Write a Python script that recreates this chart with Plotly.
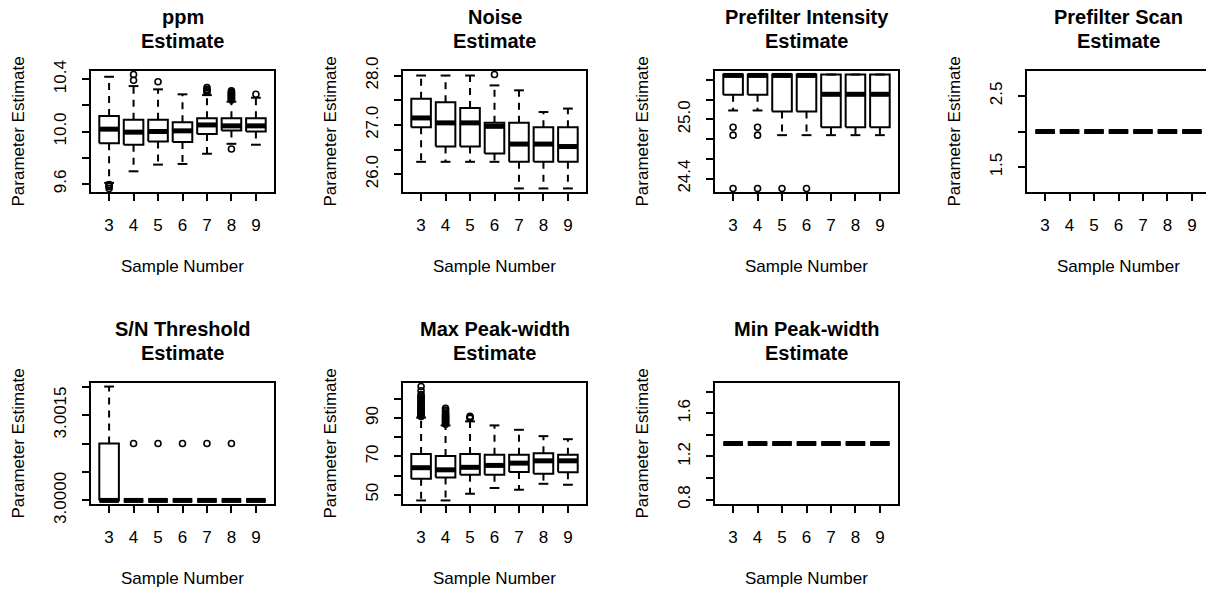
import plotly.graph_objects as go

W, H = 1206, 590
FONT = "Liberation Sans, Arial, Helvetica, sans-serif"

SAMPLES = ["3", "4", "5", "6", "7", "8", "9"]

# ---- ppm estimates -------------------------------------------------------
ppm_low = [9.608, 9.696, 9.747, 9.752, 9.830, 9.906, 9.899]
ppm_q1 = [9.911, 9.899, 9.924, 9.919, 9.980, 10.008, 10.000]
ppm_med = [10.018, 9.995, 10.000, 10.005, 10.050, 10.043, 10.043]
ppm_q3 = [10.119, 10.089, 10.089, 10.071, 10.101, 10.101, 10.101]
ppm_high = [10.418, 10.347, 10.322, 10.284, 10.278, 10.228, 10.258]
ppm_out = [
    [9.565, 9.580, 9.590, 9.595],
    [10.392, 10.435],
    [10.380],
    [],
    [10.300, 10.310, 10.320, 10.335],
    [9.866, 10.240, 10.250, 10.255, 10.260, 10.270, 10.275, 10.280,
     10.290, 10.295, 10.300, 10.310],
    [10.284],
]
ppm_ticks = [9.6, 9.8, 10.0, 10.2, 10.4]
ppm_labels = ["9.6", "", "10.0", "", "10.4"]

# ---- Noise estimates -----------------------------------------------------
noise_low = [26.25, 26.25, 26.25, 26.25, 25.71, 25.71, 25.71]
noise_q1 = [26.95, 26.56, 26.56, 26.42, 26.25, 26.25, 26.25]
noise_med = [27.14, 27.04, 27.04, 26.97, 26.61, 26.61, 26.56]
noise_q3 = [27.53, 27.46, 27.34, 27.04, 27.04, 26.95, 26.95]
noise_high = [28.00, 28.00, 28.00, 27.80, 27.70, 27.26, 27.33]
noise_out = [[], [], [], [28.02], [], [], []]
noise_ticks = [26.0, 26.5, 27.0, 27.5, 28.0]
noise_labels = ["26.0", "", "27.0", "", "28.0"]

# ---- Prefilter intensity estimates ---------------------------------------
pint_low = [25.09, 25.09, 24.84, 24.84, 24.84, 24.84, 24.84]
pint_q1 = [25.25, 25.25, 25.08, 25.08, 24.92, 24.92, 24.92]
pint_med = [25.445, 25.445, 25.445, 25.445, 25.254, 25.254, 25.254]
pint_q3 = [25.454, 25.454, 25.454, 25.454, 25.454, 25.454, 25.454]
pint_high = [25.454, 25.454, 25.454, 25.454, 25.454, 25.454, 25.454]
pint_out = [
    [24.30, 24.84, 24.92],
    [24.30, 24.84, 24.92],
    [24.30],
    [24.30],
    [], [], [],
]
pint_ticks = [24.4, 24.6, 24.8, 25.0, 25.2, 25.4]
pint_labels = ["24.4", "", "", "25.0", "", ""]

# ---- Prefilter scan estimates --------------------------------------------
pscan_low = [2.0] * 7
pscan_q1 = [2.0] * 7
pscan_med = [2.0] * 7
pscan_q3 = [2.0] * 7
pscan_high = [2.0] * 7
pscan_out = [[]] * 7
pscan_ticks = [1.5, 2.0, 2.5]
pscan_labels = ["1.5", "", "2.5"]

# ---- S/N threshold estimates ---------------------------------------------
snt_low = [3.0] * 7
snt_q1 = [3.0] * 7
snt_med = [3.0] * 7
snt_q3 = [3.001, 3.0, 3.0, 3.0, 3.0, 3.0, 3.0]
snt_high = [3.002, 3.0, 3.0, 3.0, 3.0, 3.0, 3.0]
snt_out = [[], [3.001], [3.001], [3.001], [3.001], [3.001], []]
snt_ticks = [3.0000, 3.0005, 3.0010, 3.0015, 3.0020]
snt_labels = ["3.0000", "", "", "3.0015", ""]

# ---- Max peak-width estimates --------------------------------------------
maxpw_low = [47.0, 47.0, 50.5, 53.5, 52.6, 55.7, 55.2]
maxpw_q1 = [58.3, 59.0, 60.4, 60.4, 61.8, 61.0, 61.7]
maxpw_med = [64.1, 63.0, 64.3, 65.3, 66.5, 67.7, 67.7]
maxpw_q3 = [71.2, 70.2, 71.2, 70.9, 70.9, 71.6, 70.9]
maxpw_high = [90.3, 86.2, 88.3, 86.2, 83.9, 80.6, 79.0]
maxpw_out = [
    [90.8, 91.3, 91.8, 92.3, 92.8, 93.3, 93.8, 94.3, 94.8, 95.3, 95.8,
     96.3, 96.8, 97.3, 97.8, 98.3, 99.0, 99.8, 100.6, 101.5, 102.3,
     104.3, 106.5],
    [86.8, 87.3, 87.8, 88.3, 88.8, 89.3, 89.8, 90.3, 90.8, 91.3, 91.8,
     92.5, 93.3, 94.2, 95.2],
    [90.0, 90.5, 90.9],
    [], [], [], [],
]
maxpw_ticks = [50, 60, 70, 80, 90, 100]
maxpw_labels = ["50", "", "70", "", "90", ""]

# ---- Min peak-width estimates --------------------------------------------
minpw_low = [1.32] * 7
minpw_q1 = [1.32] * 7
minpw_med = [1.32] * 7
minpw_q3 = [1.32] * 7
minpw_high = [1.32] * 7
minpw_out = [[]] * 7
minpw_ticks = [0.8, 1.0, 1.2, 1.4, 1.6, 1.8]
minpw_labels = ["0.8", "", "1.2", "", "1.6", ""]

# panel title, stats, ticks, (row, col)
panels = [
    ("ppm", (ppm_low, ppm_q1, ppm_med, ppm_q3, ppm_high, ppm_out),
     ppm_ticks, ppm_labels, 0, 0),
    ("Noise", (noise_low, noise_q1, noise_med, noise_q3, noise_high, noise_out),
     noise_ticks, noise_labels, 0, 1),
    ("Prefilter Intensity", (pint_low, pint_q1, pint_med, pint_q3, pint_high, pint_out),
     pint_ticks, pint_labels, 0, 2),
    ("Prefilter Scan", (pscan_low, pscan_q1, pscan_med, pscan_q3, pscan_high, pscan_out),
     pscan_ticks, pscan_labels, 0, 3),
    ("S/N Threshold", (snt_low, snt_q1, snt_med, snt_q3, snt_high, snt_out),
     snt_ticks, snt_labels, 1, 0),
    ("Max Peak-width", (maxpw_low, maxpw_q1, maxpw_med, maxpw_q3, maxpw_high, maxpw_out),
     maxpw_ticks, maxpw_labels, 1, 1),
    ("Min Peak-width", (minpw_low, minpw_q1, minpw_med, minpw_q3, minpw_high, minpw_out),
     minpw_ticks, minpw_labels, 1, 2),
]

# plot-region geometry (pixels)
COL_LEFT = [90, 402, 714, 1026]
ROW_TOP = [70, 382]
PW, PH = 185, 123
XLIM = (0.22, 7.78)
BOX_HALF = 0.4
CAP_HALF = 0.2
INK = "#000000"


def r_range(values):
    """Axis limits the way base R pads them (zero span widened by 40%)."""
    lo, hi = min(values), max(values)
    if lo == hi:
        lo, hi = lo - 0.4 * abs(lo), hi + 0.4 * abs(hi)
    pad = 0.04 * (hi - lo)
    return [lo - pad, hi + pad]


fig = go.Figure()
shapes = []
annotations = []
layout_axes = {}

for k, (name, stats, yt, yl, row, col) in enumerate(panels):
    low, q1, med, q3, high, outs = stats
    idx = "" if k == 0 else str(k + 1)
    xa, ya = "x" + idx, "y" + idx

    left, top = COL_LEFT[col], ROW_TOP[row]
    right, bottom = left + PW, top + PH
    px_per_unit = PW / (XLIM[1] - XLIM[0])
    vis_right = min(right, W)
    x_range = [XLIM[0], XLIM[0] + (vis_right - left) / px_per_unit]

    all_vals = low + high + [v for o in outs for v in o]
    y_range = r_range(all_vals)

    bx, by, mx, my, wx, wy, cx, cy, ox, oy = ([] for _ in range(10))
    for i in range(len(SAMPLES)):
        c = i + 1
        bx += [c - BOX_HALF, c + BOX_HALF, c + BOX_HALF, c - BOX_HALF, c - BOX_HALF, None]
        by += [q1[i], q1[i], q3[i], q3[i], q1[i], None]
        mx += [c - BOX_HALF, c + BOX_HALF, None]
        my += [med[i], med[i], None]
        wx += [c, c, None, c, c, None]
        wy += [q3[i], high[i], None, q1[i], low[i], None]
        cx += [c - CAP_HALF, c + CAP_HALF, None, c - CAP_HALF, c + CAP_HALF, None]
        cy += [high[i], high[i], None, low[i], low[i], None]
        ox += [c] * len(outs[i])
        oy += outs[i]

    common = dict(xaxis=xa, yaxis=ya, showlegend=False, hoverinfo="skip")
    fig.add_trace(go.Scatter(x=wx, y=wy, mode="lines",
                             line=dict(color=INK, width=2, dash="7px,6px"), **common))
    fig.add_trace(go.Scatter(x=cx, y=cy, mode="lines",
                             line=dict(color=INK, width=2), **common))
    fig.add_trace(go.Scatter(x=bx, y=by, mode="lines",
                             line=dict(color=INK, width=2), **common))
    fig.add_trace(go.Scatter(x=mx, y=my, mode="lines",
                             line=dict(color=INK, width=5), **common))
    if ox:
        fig.add_trace(go.Scatter(x=ox, y=oy, mode="markers",
                                 marker=dict(symbol="circle-open", size=6,
                                             color=INK, line=dict(width=1.6)),
                                 **common))

    axis_font = dict(family=FONT, size=17, color=INK)
    layout_axes["xaxis" + idx] = dict(
        domain=[left / W, vis_right / W], range=x_range, anchor=ya,
        tickmode="array", tickvals=list(range(1, len(SAMPLES) + 1)), ticktext=SAMPLES,
        ticks="outside", ticklen=7, tickwidth=2, tickcolor=INK,
        showgrid=False, zeroline=False, showline=False, fixedrange=True,
        automargin=False, tickfont=axis_font, ticklabelstandoff=10,
    )
    layout_axes["yaxis" + idx] = dict(
        domain=[1 - bottom / H, 1 - top / H], range=y_range, anchor=xa,
        tickmode="array", tickvals=yt, ticktext=yl, tickangle=-90,
        ticks="outside", ticklen=7, tickwidth=2, tickcolor=INK,
        showgrid=False, zeroline=False, showline=False, fixedrange=True,
        automargin=False, tickfont=axis_font, ticklabelstandoff=9,
    )

    # plot frame (the right side of the last column runs past the page edge)
    shapes.append(dict(type="rect", xref="paper", yref="paper",
                       x0=left / W, x1=right / W, y0=1 - bottom / H, y1=1 - top / H,
                       line=dict(color=INK, width=2), fillcolor="rgba(0,0,0,0)",
                       layer="above"))

    cx_mid = (left + right) / 2
    title_font = dict(family=FONT, size=20, color=INK)
    annotations += [
        dict(text="<b>%s</b>" % name, x=cx_mid / W, y=1 - (top - 53) / H,
             xref="paper", yref="paper", xanchor="center", yanchor="middle",
             showarrow=False, font=title_font),
        dict(text="<b>Estimate</b>", x=cx_mid / W, y=1 - (top - 29) / H,
             xref="paper", yref="paper", xanchor="center", yanchor="middle",
             showarrow=False, font=title_font),
        dict(text="Sample Number", x=cx_mid / W, y=1 - (bottom + 73) / H,
             xref="paper", yref="paper", xanchor="center", yanchor="middle",
             showarrow=False, font=axis_font),
        dict(text="Parameter Estimate", x=(left - 72) / W, y=1 - (top + PH / 2) / H,
             xref="paper", yref="paper", xanchor="center", yanchor="middle",
             textangle=-90, showarrow=False, font=axis_font),
    ]

fig.update_layout(
    width=W, height=H,
    margin=dict(l=0, r=0, t=0, b=0, autoexpand=False),
    paper_bgcolor="white", plot_bgcolor="white",
    font=dict(family=FONT, color=INK),
    shapes=shapes, annotations=annotations,
    **layout_axes,
)

fig.write_html("out.html", config={"displayModeBar": False})
